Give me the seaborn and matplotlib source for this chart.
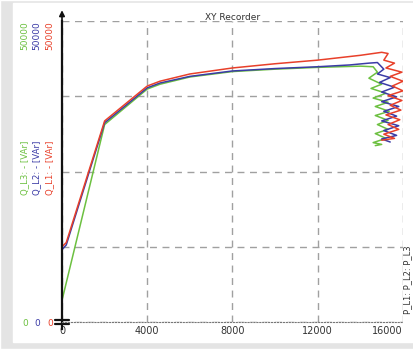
import matplotlib
matplotlib.use("Agg")
import matplotlib.pyplot as plt
from matplotlib.ticker import MultipleLocator
from matplotlib.patches import Rectangle
import seaborn as sns
import pandas as pd

# --- data (x = P, y = Q) ---
red_x = [0, 0, 200, 2000, 4000, 4600, 6000, 8000, 10000, 12000, 13000, 14000, 14600, 15000, 15300,
         15100, 15600, 15200, 15950, 15400, 16000, 15500, 16000, 15300, 15950, 15400, 15900, 15200,
         15850, 15300, 15800, 15100, 15600, 15000]
red_y = [4000, 12500, 13200, 33400, 39200, 40000, 41200, 42200, 42900, 43500, 43900, 44300, 44600, 44800, 44600,
         43500, 43000, 42200, 41500, 40800, 40000, 39200, 38400, 37600, 36800, 36000, 35200, 34400,
         33600, 32800, 32000, 31200, 30500, 30200]

blue_x = [0, 0, 200, 2000, 4000, 4600, 6000, 8000, 10000, 12000, 13500, 14400, 14800,
          15100, 14800, 15400, 14900, 15600, 15000, 15700, 15000, 15800, 15100, 15700, 15000,
          15800, 15100, 15700, 15000, 15400]
blue_y = [2500, 12000, 12800, 33100, 38900, 39700, 40800, 41700, 42100, 42400, 42700, 43000, 43100,
          42000, 41200, 40600, 39800, 39000, 38200, 37400, 36600, 35800, 35000, 34200, 33400,
          32600, 31800, 31000, 30400, 29900]

green_x = [0, 0, 2000, 4000, 4600, 6000, 8000, 10000, 12000, 14000, 14600,
           14800, 14400, 15000, 14500, 15200, 14600, 15300, 14700, 15350, 14700, 15300, 14800,
           15300, 14700, 15200, 14600, 15000, 14700]
green_y = [10500, 3600, 32800, 38700, 39500, 40700, 41600, 42000, 42300, 42500, 42400,
           41500, 40500, 39500, 38800, 38000, 37200, 36500, 35800, 35000, 34300, 33500, 32800,
           32000, 31300, 30500, 29800, 29500, 29300]

x_ticks = [0, 4000, 8000, 12000, 16000]
y_grid = [0, 12500, 25000, 37500, 50000]

RED = "#e8402a"
BLUE = "#3b3ba6"
GREEN = "#6cc040"

sns.set_style("white")
plt.rcParams['font.family'] = ['DejaVu Sans']

fig = plt.figure(figsize=(4.14, 3.49), dpi=100)
# light grey frame around the panel
fig.patches.append(Rectangle((0, 0), 1, 1, transform=fig.transFigure, facecolor="#e4e4e4", zorder=-2))
fig.patches.append(Rectangle((13 / 414, 7 / 349), 1, 1 - 10 / 349, transform=fig.transFigure,
                             facecolor="white", zorder=-1))

ax = fig.add_axes([62 / 414, 1 - 322 / 349, (403 - 62) / 414, (322 - 21) / 349])
ax.set_facecolor("none")

for xs, ys, c in [(green_x, green_y, GREEN), (blue_x, blue_y, BLUE), (red_x, red_y, RED)]:
    df = pd.DataFrame({"P": xs, "Q": ys})
    sns.lineplot(data=df, x="P", y="Q", sort=False, estimator=None, color=c, lw=1.1, ax=ax)

ax.set_xlim(0, 16000)
ax.set_ylim(0, 50000)
ax.set_xticks(x_ticks)
ax.set_yticks(y_grid)
ax.set_yticklabels([])
ax.xaxis.set_minor_locator(MultipleLocator(500))
ax.yaxis.set_minor_locator(MultipleLocator(2500))
ax.grid(True, which="major", ls=(0, (5, 4)), color="#a0a0a0", lw=1.0)
ax.tick_params(axis="x", which="major", labelsize=7, colors="#333333", length=4, direction="in", pad=3)
ax.tick_params(axis="x", which="minor", length=2, direction="in", color="#666666")
ax.tick_params(axis="y", which="both", length=3, direction="out", color="#333333")
ax.tick_params(axis="y", which="major", length=0)
labels = ax.get_xticklabels()
labels[-1].set_horizontalalignment("right")
labels[-1].set_x(16000)
ax.set_xlabel("")
ax.set_ylabel("")

for s in ["top", "right"]:
    ax.spines[s].set_visible(False)
ax.spines["left"].set_color("#111111")
ax.spines["left"].set_linewidth(1.6)
ax.spines["left"].set_bounds(-1200, 50000)
ax.spines["bottom"].set_color("#777777")
ax.spines["bottom"].set_linestyle(":")

# arrow on the y axis
ax.annotate("", xy=(0, 1.045), xytext=(0, 0.99), xycoords="axes fraction",
            arrowprops=dict(arrowstyle="-|>", color="#111111", lw=1.2, mutation_scale=8))
# break mark at the origin
for dy in (-0.007, 0.007):
    ax.plot([-0.02, 0.02], [dy, dy], transform=ax.transAxes, color="#111111", lw=1.6, clip_on=False)

ax.set_title("XY Recorder", fontsize=6.5, color="#333333", pad=1)

# per-channel y labels on the left
for xpx, c, name in [(25, GREEN, "Q_L3: - [VAr]"), (37, BLUE, "Q_L2: - [VAr]"), (50, RED, "Q_L1: - [VAr]")]:
    fig.text(xpx / 414, 1 - 36 / 349, "50000", rotation=90, color=c, fontsize=6.5,
             ha="center", va="center")
    fig.text(xpx / 414, 1 - 168 / 349, name, rotation=90, color=c, fontsize=6.2,
             ha="center", va="center")
    fig.text(xpx / 414, 1 - 323 / 349, "0", color=c, fontsize=6.5, ha="center", va="center")

fig.text(408 / 414, 1 - 280 / 349, "P_L1: P_L2: P_L3", rotation=90, color="#333333", fontsize=6,
         ha="center", va="center")

fig.savefig("out.png", dpi=100)
